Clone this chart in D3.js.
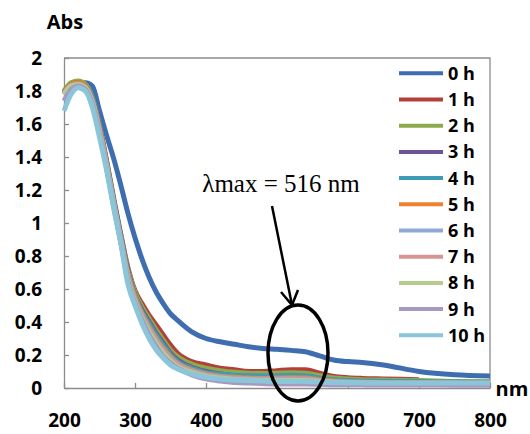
<!DOCTYPE html>
<html><head><meta charset="utf-8">
<script src="https://cdn.jsdelivr.net/npm/d3@7"></script>
<style>
body{margin:0;background:#fff;}
text{font-family:"Open Sans",sans-serif;font-weight:bold;fill:#000;}
</style></head>
<body><svg id="c" width="530" height="434"></svg>
<script>
const wavelengths = [200,210,220,230,240,250,260,270,280,290,300,310,320,330,340,350,360,380,400,420,440,460,480,500,520,540,560,580,600,620,650,700,750,800];
const seriesNames = ["0 h","1 h","2 h","3 h","4 h","5 h","6 h","7 h","8 h","9 h","10 h"];
const h0  = [1.78,1.81,1.83,1.85,1.83,1.68,1.53,1.39,1.23,1.06,0.91,0.78,0.67,0.58,0.51,0.45,0.41,0.34,0.30,0.28,0.265,0.25,0.24,0.235,0.228,0.22,0.195,0.17,0.16,0.155,0.14,0.10,0.08,0.073];
const h1  = [1.79,1.84,1.85,1.83,1.75,1.58,1.37,1.14,0.93,0.73,0.59,0.51,0.44,0.38,0.32,0.26,0.21,0.16,0.14,0.12,0.11,0.10,0.10,0.105,0.11,0.11,0.09,0.07,0.062,0.058,0.055,0.05];
const h2  = [1.80,1.85,1.86,1.84,1.76,1.59,1.38,1.15,0.93,0.72,0.58,0.49,0.42,0.35,0.29,0.23,0.19,0.145,0.12,0.105,0.095,0.09,0.088,0.09,0.092,0.09,0.075,0.06,0.055,0.05,0.048,0.045,0.04,0.038];
const h3  = [1.79,1.84,1.85,1.83,1.75,1.58,1.37,1.14,0.92,0.71,0.56,0.47,0.40,0.33,0.27,0.21,0.17,0.125,0.10,0.085,0.075,0.07,0.065,0.065,0.066,0.065,0.055,0.045,0.04,0.038,0.036,0.035,0.033,0.032];
const h4  = [1.79,1.84,1.85,1.83,1.75,1.57,1.36,1.13,0.91,0.70,0.56,0.46,0.39,0.32,0.26,0.20,0.16,0.12,0.095,0.085,0.078,0.075,0.073,0.075,0.077,0.075,0.06,0.05,0.045,0.043,0.04,0.038,0.036,0.035];
const h5  = [1.79,1.84,1.85,1.83,1.74,1.57,1.36,1.12,0.90,0.69,0.55,0.45,0.37,0.30,0.24,0.19,0.15,0.11,0.085,0.072,0.065,0.06,0.058,0.06,0.062,0.06,0.05,0.042,0.038,0.036,0.034,0.033,0.032,0.03];
const h6  = [1.78,1.83,1.84,1.82,1.74,1.56,1.35,1.12,0.90,0.68,0.54,0.44,0.36,0.29,0.23,0.18,0.145,0.105,0.08,0.068,0.06,0.056,0.054,0.055,0.056,0.055,0.046,0.04,0.036,0.034,0.032,0.031,0.03,0.029];
const h7  = [1.78,1.83,1.84,1.82,1.73,1.56,1.34,1.11,0.89,0.67,0.53,0.43,0.35,0.28,0.22,0.17,0.14,0.10,0.076,0.064,0.056,0.052,0.05,0.05,0.051,0.05,0.043,0.038,0.034,0.032,0.03,0.029,0.028,0.027];
const h8  = [1.78,1.83,1.84,1.82,1.73,1.55,1.34,1.11,0.89,0.66,0.52,0.42,0.34,0.27,0.21,0.165,0.13,0.095,0.072,0.06,0.052,0.048,0.046,0.045,0.046,0.045,0.04,0.035,0.032,0.03,0.028,0.027,0.026,0.025];
const h9  = [1.74,1.81,1.83,1.81,1.72,1.54,1.33,1.10,0.88,0.65,0.51,0.41,0.32,0.25,0.19,0.15,0.12,0.08,0.055,0.042,0.034,0.03,0.027,0.025,0.025,0.024,0.022,0.02,0.02,0.019,0.018,0.018,0.017,0.017];
const h10 = [1.68,1.78,1.82,1.80,1.70,1.52,1.32,1.09,0.88,0.63,0.50,0.39,0.30,0.23,0.18,0.14,0.115,0.085,0.065,0.055,0.048,0.045,0.042,0.04,0.04,0.04,0.035,0.033,0.032,0.03,0.03,0.03,0.03,0.03];
const seriesValues = [h0,h1,h2,h3,h4,h5,h6,h7,h8,h9,h10];
const seriesColors = ["#3e6db0","#b33f3b","#8dab4c","#6e5297","#3d9bb5","#eb8333","#8ea9d5","#d69492","#b5cc8e","#a899c2","#8bc5d9"];
const yTicks = [0,0.2,0.4,0.6,0.8,1,1.2,1.4,1.6,1.8,2];
const yTickLabels = ["0","0.2","0.4","0.6","0.8","1","1.2","1.4","1.6","1.8","2"];
const xTicks = [200,300,400,500,600,700,800];
const xTickLabels = ["200","300","400","500","600","700","800"];
const annotation = "\u03bbmax = 516 nm";

const svg = d3.select("#c");
const L=64, R=490, T=58, B=388;
const x = d3.scaleLinear().domain([200,800]).range([L,R]);
const y = d3.scaleLinear().domain([0,2]).range([B,T]);
const gray = "#8c8c8c";

svg.append("path").attr("d",`M${L},${T}H${R}V${B}`).attr("fill","none").attr("stroke",gray).attr("stroke-width",1.3);

const yAxis = d3.axisLeft(y).tickValues(yTicks).tickFormat((d,i)=>yTickLabels[i]).tickSizeInner(-5).tickSizeOuter(0).tickPadding(22);
const gy = svg.append("g").attr("transform",`translate(${L},0)`).call(yAxis);
const xAxis = d3.axisBottom(x).tickValues(xTicks).tickFormat((d,i)=>xTickLabels[i]).tickSizeInner(-5).tickSizeOuter(0).tickPadding(26);
const gx = svg.append("g").attr("transform",`translate(0,${B})`).call(xAxis);
[gx,gy].forEach(g=>{
  g.selectAll("path,line").attr("stroke",gray).attr("stroke-width",1.3);
  g.selectAll("text").style("font-size","19px").style("font-family","'Open Sans',sans-serif").style("font-weight","bold").attr("fill","#000");
});

svg.append("text").attr("x",65).attr("y",29).attr("text-anchor","middle").style("font-size","20px").text("Abs");
svg.append("text").attr("x",512).attr("y",396).attr("text-anchor","middle").style("font-size","20px").text("nm");

const line = d3.line().x((d,i)=>x(wavelengths[i])).y(d=>y(d)).curve(d3.curveMonotoneX);
seriesValues.forEach((vals,k)=>{
  svg.append("path").datum(vals).attr("d",line).attr("fill","none")
    .attr("stroke",seriesColors[k]).attr("stroke-width",5).attr("stroke-linejoin","round");
});

const lg = svg.append("g");
seriesNames.forEach((n,i)=>{
  const yy = 73.3 + i*26.2;
  lg.append("line").attr("x1",399).attr("x2",443).attr("y1",yy).attr("y2",yy).attr("stroke",seriesColors[i]).attr("stroke-width",4);
  lg.append("text").attr("x",448).attr("y",yy+6.5).style("font-size","18px").text(n);
});

svg.append("text").attr("x",281).attr("y",192).attr("text-anchor","middle")
  .style("font-family","'Liberation Serif','Times New Roman',serif").style("font-weight","normal").style("font-size","25px").text(annotation);
svg.append("line").attr("x1",272).attr("y1",206).attr("x2",292).attr("y2",305).attr("stroke","#000").attr("stroke-width",2.5);
svg.append("path").attr("d","M281,292 L292,305 L298,290").attr("fill","none").attr("stroke","#000").attr("stroke-width",2.5);
svg.append("ellipse").attr("cx",298).attr("cy",353).attr("rx",30).attr("ry",48).attr("fill","none").attr("stroke","#000").attr("stroke-width",3.5);
</script></body></html>
